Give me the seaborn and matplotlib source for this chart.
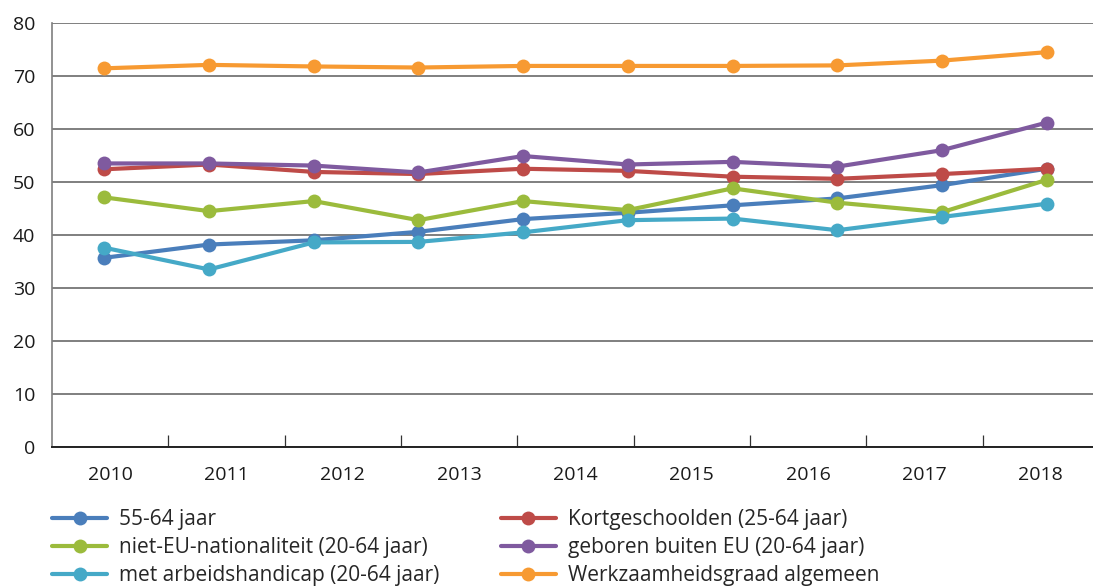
import matplotlib
matplotlib.use("Agg")
import matplotlib.pyplot as plt
import numpy as np
import pandas as pd
import seaborn as sns

# --- Gegevens ---
jaren = ["2010", "2011", "2012", "2013", "2014", "2015", "2016", "2017", "2018"]
meetpunt = list(range(10))  # 10 meetpunten over de as verdeeld

reeks_namen = [
    "55-64 jaar",
    "Kortgeschoolden (25-64 jaar)",
    "niet-EU-nationaliteit (20-64 jaar)",
    "geboren buiten EU (20-64 jaar)",
    "met arbeidshandicap (20-64 jaar)",
    "Werkzaamheidsgraad algemeen",
]
oudere_55_64 = [35.7, 38.2, 39.0, 40.6, 43.0, 44.2, 45.6, 46.9, 49.4, 52.5]
kortgeschoolden = [52.4, 53.3, 51.9, 51.5, 52.5, 52.1, 51.0, 50.6, 51.5, 52.5]
niet_eu = [47.1, 44.5, 46.4, 42.8, 46.4, 44.7, 48.8, 46.1, 44.3, 50.4]
geboren_buiten_eu = [53.5, 53.5, 53.1, 51.8, 54.9, 53.3, 53.8, 52.9, 56.0, 61.2]
arbeidshandicap = [37.6, 33.5, 38.6, 38.7, 40.5, 42.8, 43.1, 40.9, 43.4, 45.9]
algemeen = [71.45, 72.1, 71.8, 71.6, 71.9, 71.9, 71.9, 72.0, 72.9, 74.5]

kleuren = ["#4a7ebb", "#be4b48", "#9bbb3c", "#7f5a9f", "#45a9c7", "#f79a32"]

df = pd.DataFrame({
    "punt": meetpunt * 6,
    "waarde": oudere_55_64 + kortgeschoolden + niet_eu + geboren_buiten_eu
    + arbeidshandicap + algemeen,
    "reeks": [n for n in reeks_namen for _ in meetpunt],
})

sns.set_style("white")
plt.rcParams["font.family"] = ["Open Sans", "DejaVu Sans"]

fig = plt.figure(figsize=(10.93, 5.87), dpi=100)
ax = fig.add_axes([52 / 1093, 1 - 447 / 587, 1047 / 1093, (447 - 23) / 587])

for naam, kleur in zip(reeks_namen, kleuren):
    sns.lineplot(data=df[df["reeks"] == naam], x="punt", y="waarde", ax=ax,
                 color=kleur, marker="o", markersize=10, markeredgewidth=0,
                 linewidth=3, label=naam, legend=False)

# y-as
ax.set_ylim(0, 80)
ax.set_yticks(np.arange(0, 81, 10))
ax.yaxis.grid(True, color="#7f7f7f", linewidth=1.4)
ax.tick_params(axis="y", length=0, pad=12, labelsize=14, colors="#1a1a1a")

# x-as: 9 categorieën over dezelfde breedte als de 10 punten
ax.set_xlim(-0.5, 9.5)
breedte = 10 / len(jaren)
ax.set_xticks([-0.5 + breedte * (k + 0.5) for k in range(len(jaren))])
ax.set_xticklabels(jaren)
ax.set_xticks([-0.5 + breedte * k for k in range(1, len(jaren))], minor=True)
ax.tick_params(axis="x", which="major", length=0, pad=14, labelsize=14,
               colors="#1a1a1a")
ax.tick_params(axis="x", which="minor", direction="in", length=9, width=0.9,
               color="#333333", bottom=True)
ax.set_xlabel("")
ax.set_ylabel("")

for s in ["top", "right"]:
    ax.spines[s].set_visible(False)
ax.spines["left"].set_color("#7f7f7f")
ax.spines["left"].set_linewidth(1.2)
ax.spines["bottom"].set_color("#222222")
ax.spines["bottom"].set_linewidth(1.4)

handles, labels = ax.get_legend_handles_labels()
volgorde = [0, 2, 4, 1, 3, 5]
fig.legend([handles[i] for i in volgorde], [labels[i] for i in volgorde],
           loc="upper left", bbox_to_anchor=(52 / 1093, 1 - 509 / 587),
           ncol=2, frameon=False, fontsize=15, handlelength=2.65,
           handletextpad=0.58, labelspacing=0.34, columnspacing=2.92,
           borderpad=0, borderaxespad=0)

fig.savefig("out.png", dpi=100)
